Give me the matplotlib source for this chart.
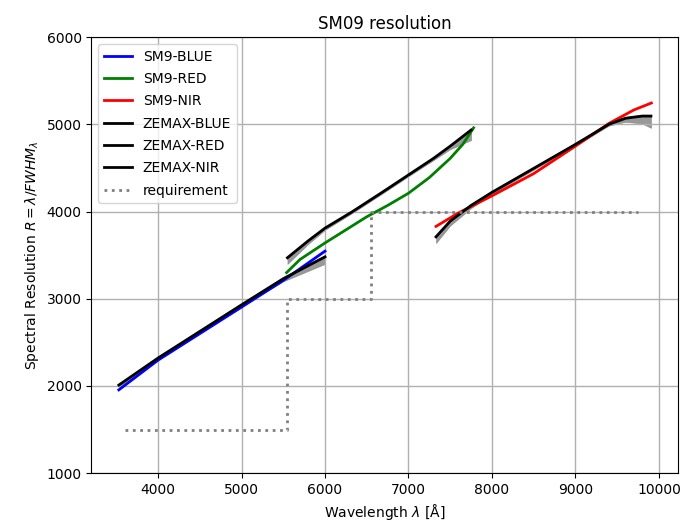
import matplotlib.pyplot as plt
import numpy as np

# SM9 measured resolution
sm9_blue_x = [3530, 4000, 4500, 5000, 5500, 6000]
sm9_blue_y = [1955, 2296, 2600, 2904, 3210, 3546]
sm9_red_x = [5540, 5700, 6000, 6250, 6500, 6750, 7000, 7250, 7500, 7650, 7780]
sm9_red_y = [3300, 3450, 3640, 3790, 3940, 4070, 4210, 4390, 4610, 4770, 4960]
sm9_nir_x = [7330, 7600, 8000, 8500, 9000, 9400, 9700, 9910]
sm9_nir_y = [3830, 3985, 4180, 4435, 4750, 5010, 5165, 5245]

# ZEMAX model (mean, min, max over field)
zmx_blue_x = [3530, 4000, 4500, 5000, 5500, 5800, 6000]
zmx_blue_y = [2010, 2320, 2625, 2930, 3230, 3380, 3480]
zmx_blue_lo = [1990, 2305, 2610, 2915, 3200, 3320, 3400]
zmx_blue_hi = [2020, 2330, 2635, 2940, 3240, 3400, 3500]
zmx_red_x = [5550, 5800, 6000, 6330, 6700, 7000, 7300, 7500, 7750]
zmx_red_y = [3470, 3665, 3810, 4000, 4230, 4420, 4610, 4750, 4935]
zmx_red_lo = [3400, 3630, 3790, 3985, 4215, 4405, 4590, 4715, 4820]
zmx_red_hi = [3480, 3675, 3820, 4010, 4240, 4430, 4620, 4760, 4945]
zmx_nir_x = [7330, 7500, 7750, 8000, 8500, 9000, 9400, 9600, 9800, 9905]
zmx_nir_y = [3710, 3890, 4070, 4220, 4495, 4770, 5000, 5070, 5095, 5095]
zmx_nir_lo = [3640, 3840, 4040, 4200, 4480, 4755, 4985, 5030, 5010, 4960]
zmx_nir_hi = [3725, 3905, 4085, 4235, 4510, 4785, 5015, 5085, 5110, 5110]

# requirement
req_x = [3600, 5550, 5550, 6550, 6550, 9750]
req_y = [1500, 1500, 3000, 3000, 4000, 4000]

fig, ax = plt.subplots(figsize=(6.82, 5.31), dpi=100)
fig.subplots_adjust(left=0.134, right=0.994, top=0.930, bottom=0.109)

ax.plot(sm9_blue_x, sm9_blue_y, color='blue', lw=2, label='SM9-BLUE')
ax.plot(sm9_red_x, sm9_red_y, color='green', lw=2, label='SM9-RED')
ax.plot(sm9_nir_x, sm9_nir_y, color='red', lw=2, label='SM9-NIR')

for xs, ys, lo, hi, name in [(zmx_blue_x, zmx_blue_y, zmx_blue_lo, zmx_blue_hi, 'ZEMAX-BLUE'),
                             (zmx_red_x, zmx_red_y, zmx_red_lo, zmx_red_hi, 'ZEMAX-RED'),
                             (zmx_nir_x, zmx_nir_y, zmx_nir_lo, zmx_nir_hi, 'ZEMAX-NIR')]:
    ax.fill_between(xs, lo, hi, color='gray', alpha=0.8, lw=0.5, edgecolor='gray')
    ax.plot(xs, ys, color='black', lw=2, label=name)

ax.plot(req_x, req_y, color='gray', ls=':', lw=2, label='requirement')

ax.set_ylim(1000, 6000)
ax.set_xlim(3201, 10228)
ax.grid(True, lw=1)
ax.set_xlabel(r'Wavelength $\lambda$ [Å]')
ax.set_ylabel(r'Spectral Resolution $R = \lambda/FWHM_\lambda$')
ax.set_title('SM09 resolution')
ax.legend(loc='upper left', labelspacing=0.6)

plt.savefig('out.png', dpi=100)
